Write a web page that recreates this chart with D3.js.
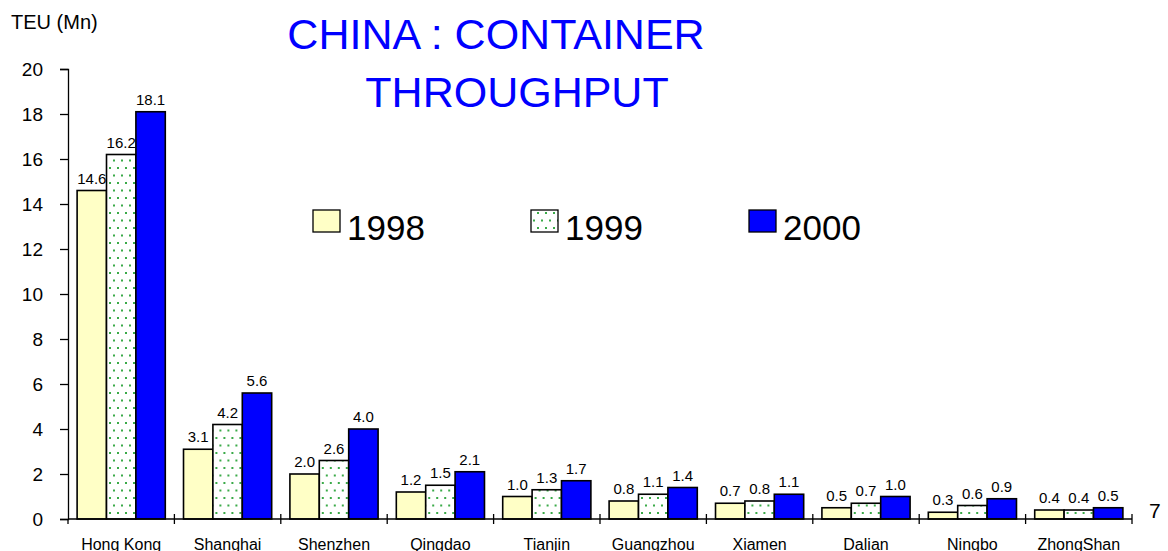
<!DOCTYPE html>
<html>
<head>
<meta charset="utf-8">
<script src="https://cdn.jsdelivr.net/npm/d3@7"></script>
<style>
  html, body { margin: 0; padding: 0; background: #fff; }
  svg { display: block; font-family: "Liberation Sans", Arial, sans-serif; }
</style>
</head>
<body>
<svg id="chart" width="1168" height="551"></svg>
<script>
// Container throughput of Chinese ports, million TEU
const ports = ["Hong Kong", "Shanghai", "Shenzhen", "Qingdao", "Tianjin",
               "Guangzhou", "Xiamen", "Dalian", "Ningbo", "ZhongShan"];
const years = ["1998", "1999", "2000"];
const teu1998 = [14.6, 3.1, 2.0, 1.2, 1.0, 0.8, 0.7, 0.5, 0.3, 0.4];
const teu1999 = [16.2, 4.2, 2.6, 1.5, 1.3, 1.1, 0.8, 0.7, 0.6, 0.4];
const teu2000 = [18.1, 5.6, 4.0, 2.1, 1.7, 1.4, 1.1, 1.0, 0.9, 0.5];
const yTicks = [0, 2, 4, 6, 8, 10, 12, 14, 16, 18, 20];

const series = [teu1998, teu1999, teu2000];
const fills = ["#ffffc6", "url(#dots)", "#0000ff"];

const svg = d3.select("#chart");

// dotted pattern for 1999
const defs = svg.append("defs");
const pat = defs.append("pattern")
  .attr("id", "dots").attr("patternUnits", "userSpaceOnUse")
  .attr("width", 8).attr("height", 15);
pat.append("rect").attr("width", 8).attr("height", 15).attr("fill", "#fff");
[[2, 3], [6, 10.5]].forEach(([cx, cy]) => {
  pat.append("rect").attr("x", cx - 1).attr("y", cy - 1)
    .attr("width", 2).attr("height", 2).attr("fill", "#3aaa48");
});

const plotLeft = 68, plotRight = 1132, plotTop = 69, plotBottom = 519;

const x = d3.scaleBand().domain(ports).range([plotLeft, plotRight]).paddingInner(0).paddingOuter(0);
const xs = d3.scaleBand().domain(years).range([0, x.bandwidth()]).paddingInner(0).paddingOuter(0.31);
const y = d3.scaleLinear().domain([0, 20]).range([plotBottom, plotTop]);

// y axis
const yAxis = d3.axisLeft(y).tickValues(yTicks).tickSize(8).tickPadding(17).tickFormat(d3.format("d"));
const gy = svg.append("g").attr("transform", `translate(${plotLeft},0)`).call(yAxis);
gy.select(".domain").attr("stroke", "#000").attr("stroke-width", 1.3);
gy.selectAll(".tick line").attr("stroke", "#000").attr("stroke-width", 1.3);
gy.selectAll(".tick text").attr("font-size", 19).attr("fill", "#000")
  .attr("font-family", "Liberation Sans, Arial, sans-serif");

// bars with value labels
ports.forEach((p, i) => {
  const g = svg.append("g").attr("transform", `translate(${x(p)},0)`);
  series.forEach((vals, k) => {
    const v = vals[i];
    g.append("rect")
      .attr("x", xs(years[k])).attr("width", xs.bandwidth())
      .attr("y", y(v)).attr("height", y(0) - y(v))
      .attr("fill", fills[k]).attr("stroke", "#000").attr("stroke-width", 1.6);
    g.append("text")
      .attr("x", xs(years[k]) + xs.bandwidth() / 2).attr("y", y(v) - 7)
      .attr("text-anchor", "middle").attr("font-size", 15).attr("fill", "#000")
      .text(v.toFixed(1));
  });
});

// x axis with crossing ticks between ports
svg.append("line").attr("x1", plotLeft).attr("x2", plotRight).attr("y1", plotBottom).attr("y2", plotBottom)
  .attr("stroke", "#000").attr("stroke-width", 1.3);
ports.forEach(p => {
  const xe = x(p) + x.bandwidth();
  svg.append("line").attr("x1", xe).attr("x2", xe).attr("y1", plotBottom - 5).attr("y2", plotBottom + 5)
    .attr("stroke", "#000").attr("stroke-width", 1.3);
});
svg.append("line").attr("x1", plotLeft).attr("x2", plotLeft).attr("y1", plotBottom).attr("y2", plotBottom + 5)
  .attr("stroke", "#000").attr("stroke-width", 1.3);

svg.append("g").selectAll("text").data(ports).join("text")
  .attr("x", d => x(d) + x.bandwidth() / 2).attr("y", 550)
  .attr("text-anchor", "middle").attr("font-size", 16).attr("fill", "#000")
  .text(d => d);

// axis title
svg.append("text").attr("x", 11).attr("y", 29).attr("font-size", 20).attr("fill", "#000").text("TEU (Mn)");

// title
svg.append("text").attr("x", 496).attr("y", 49).attr("text-anchor", "middle")
  .attr("font-size", 43).attr("fill", "#0000ff").text("CHINA : CONTAINER");
svg.append("text").attr("x", 517).attr("y", 107).attr("text-anchor", "middle")
  .attr("font-size", 43).attr("fill", "#0000ff").text("THROUGHPUT");

// legend
const legX = [313, 531, 749];
years.forEach((yr, k) => {
  svg.append("rect").attr("x", legX[k]).attr("y", 210).attr("width", 27).attr("height", 22)
    .attr("fill", fills[k]).attr("stroke", "#000").attr("stroke-width", 1.3);
  svg.append("text").attr("x", legX[k] + 34).attr("y", 240)
    .attr("font-size", 35).attr("fill", "#000").text(yr);
});

// page number
svg.append("text").attr("x", 1149).attr("y", 518).attr("font-size", 21).attr("fill", "#000").text("7");
</script>
</body>
</html>
